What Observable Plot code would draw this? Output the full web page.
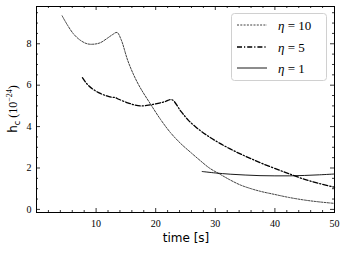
<!DOCTYPE html>
<html><head><meta charset="utf-8">
<script src="https://cdn.jsdelivr.net/npm/d3@7"></script>
<script src="https://cdn.jsdelivr.net/npm/@observablehq/plot@0.6"></script>
<style>
html,body{margin:0;padding:0;background:#fff;}
</style>
</head><body>
<div id="chart"></div>
<script>
// eta = 10
const t10 = [4.3, 5.2, 6.2, 7.3, 8.5, 9.6, 10.7, 11.8, 12.8, 13.5, 14.2, 15.3, 16.3, 17.4, 19.1, 20.8, 22.5, 24.2, 26, 27.5, 29, 30.9, 32.5, 34.2, 36, 37.6, 40, 42.3, 45, 47.5, 50];
const h10 = [9.35, 8.9, 8.48, 8.18, 8.0, 7.98, 8.05, 8.25, 8.45, 8.55, 8.2, 7.2, 6.5, 5.88, 5.1, 4.35, 3.7, 3.18, 2.72, 2.35, 2.0, 1.68, 1.42, 1.18, 1.0, 0.87, 0.72, 0.58, 0.45, 0.36, 0.29];
// eta = 5
const t5 = [7.7, 8.5, 9.5, 10.7, 11.8, 12.6, 13.2, 13.8, 15.3, 16.3, 17.4, 18.5, 20, 21.5, 22.7, 24.2, 25.5, 27.5, 29, 30.7, 32.5, 34.2, 36, 38, 40.9, 42.3, 45, 47.5, 50];
const h5 = [6.36, 6.05, 5.8, 5.6, 5.48, 5.42, 5.4, 5.32, 5.15, 5.06, 5.0, 5.02, 5.1, 5.2, 5.3, 4.75, 4.3, 3.8, 3.5, 3.2, 2.92, 2.68, 2.45, 2.2, 1.88, 1.73, 1.45, 1.25, 1.07];
// eta = 1
const t1 = [27.8, 30, 32.5, 35, 37.5, 40, 42.5, 45, 47.5, 50];
const h1 = [1.83, 1.76, 1.7, 1.66, 1.63, 1.62, 1.62, 1.64, 1.67, 1.71];

const seriesNames = ["η = 10", "η = 5", "η = 1"];
const xMajor = [10, 20, 30, 40, 50];
const xMinor = d3.range(0, 50.01, 2);
const yMajor = [0, 2, 4, 6, 8];
const yMinor = d3.range(0, 9.8, 0.5);

const styles = [
  {dash: "2,1.3", w: 0.75},
  {dash: "5,2,1.2,2", w: 1.3},
  {dash: null, w: 0.9}
];

const rows = [];
[[t10, h10], [t5, h5], [t1, h1]].forEach(([ts, hs], i) => {
  ts.forEach((t, j) => rows.push({t, h: hs[j], s: seriesNames[i]}));
});

const W = 346, H = 253, mL = 36, mR = 12, mT = 6, mB = 41;
const innerH = H - mT - mB, innerW = W - mL - mR;
const SERIF = "'Liberation Serif', 'Times New Roman', 'DejaVu Serif', serif";
const SANS = "'DejaVu Sans', 'Liberation Sans', sans-serif";

const lineMarks = seriesNames.map((s, i) => Plot.line(rows.filter(r => r.s === s), {
  x: "t", y: "h", stroke: "black", strokeWidth: styles[i].w,
  strokeDasharray: styles[i].dash, curve: "catmull-rom"
}));

const plot = Plot.plot({
  width: W, height: H,
  marginLeft: mL, marginRight: mR, marginTop: mT, marginBottom: mB,
  style: {fontFamily: SERIF, fontSize: "10px", background: "white"},
  x: {domain: [0, 50]},
  y: {domain: [-0.15, 9.8]},
  marks: [
    ...lineMarks,
    Plot.tickX(xMajor, {x: d => d, insetTop: innerH - 4, stroke: "black", strokeWidth: 0.8}),
    Plot.tickX(xMajor, {x: d => d, insetBottom: innerH - 4, stroke: "black", strokeWidth: 0.8}),
    Plot.tickX(xMinor.filter(v => !xMajor.includes(v)), {x: d => d, insetTop: innerH - 2, stroke: "black", strokeWidth: 0.8}),
    Plot.tickX(xMinor.filter(v => !xMajor.includes(v)), {x: d => d, insetBottom: innerH - 2, stroke: "black", strokeWidth: 0.8}),
    Plot.tickY(yMajor, {y: d => d, insetRight: innerW - 4, stroke: "black", strokeWidth: 0.8}),
    Plot.tickY(yMajor, {y: d => d, insetLeft: innerW - 4, stroke: "black", strokeWidth: 0.8}),
    Plot.tickY(yMinor.filter(v => !yMajor.includes(v)), {y: d => d, insetRight: innerW - 2, stroke: "black", strokeWidth: 0.8}),
    Plot.tickY(yMinor.filter(v => !yMajor.includes(v)), {y: d => d, insetLeft: innerW - 2, stroke: "black", strokeWidth: 0.8}),
    Plot.axisX(xMajor, {tickSize: 0, tickPadding: 7, label: null, fontSize: 10, fontFamily: SERIF}),
    Plot.axisY(yMajor, {tickSize: 0, tickPadding: 5, label: null, fontSize: 10, fontFamily: SERIF}),
    Plot.frame({stroke: "black", strokeWidth: 1})
  ]
});
document.getElementById("chart").appendChild(plot);

const svg = d3.select(plot);
svg.append("text").attr("x", mL + innerW / 2 + 1).attr("y", 242)
  .attr("text-anchor", "middle").style("font-family", SANS)
  .attr("font-size", 12).attr("fill", "black").text("time [s]");
const yl = svg.append("text").attr("transform", `translate(17,${mT + innerH / 2}) rotate(-90)`)
  .attr("text-anchor", "middle").attr("font-size", 12).attr("fill", "black");
yl.append("tspan").style("font-family", SANS).text("h");
yl.append("tspan").style("font-family", SANS).attr("font-size", 8).attr("dy", 3).text("c");
yl.append("tspan").style("font-family", SERIF).attr("dy", -3).text(" (10");
yl.append("tspan").style("font-family", SERIF).attr("font-size", 8).attr("dy", -5).text("−24");
yl.append("tspan").style("font-family", SERIF).attr("dy", 5).text(")");

const lg = svg.append("g");
lg.append("rect").attr("x", 231.5).attr("y", 13.5).attr("width", 95).attr("height", 67)
  .attr("rx", 3).attr("fill", "white").attr("stroke", "#d0d0d0").attr("stroke-width", 1);
const ly = [25, 47, 68];
seriesNames.forEach((s, i) => {
  lg.append("line").attr("x1", 237).attr("x2", 267).attr("y1", ly[i]).attr("y2", ly[i])
    .attr("stroke", "black").attr("stroke-width", styles[i].w)
    .attr("stroke-dasharray", styles[i].dash);
  const tx = lg.append("text").attr("x", 278).attr("y", ly[i] + 4.5)
    .attr("text-anchor", "start")
    .style("font-family", SERIF).attr("font-size", 13).attr("fill", "black");
  const parts = s.split(" = ");
  tx.append("tspan").attr("font-style", "italic").text("η");
  tx.append("tspan").text(" = " + parts[1]);
});
</script>
</body></html>
